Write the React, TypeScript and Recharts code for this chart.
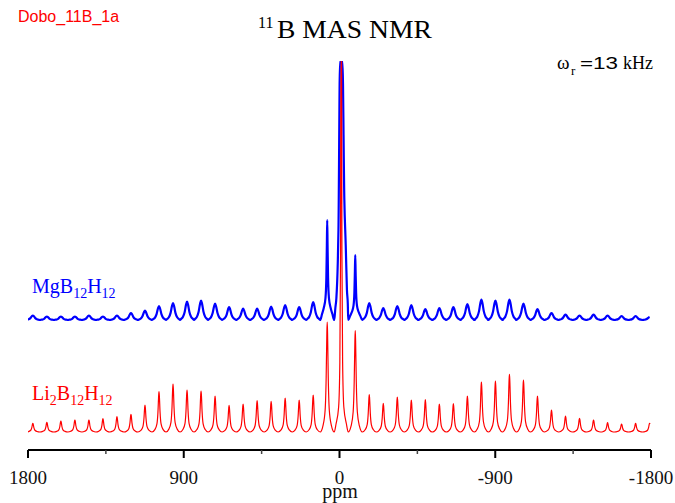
import React from "react";
import { LineChart, Line, XAxis, YAxis } from "recharts";

// sideband positions (ppm), left to right on the reversed axis; -10 ppm is the centre band
const sidebandPpm = [
  1772, 1691, 1610, 1529, 1448, 1367, 1286, 1205, 1124, 1043, 962, 881, 800, 719, 638, 557, 476, 395, 314, 233, 152, 71,
  -10,
  -91, -172, -253, -334, -415, -496, -577, -658, -739, -820, -901, -982, -1063, -1144, -1225, -1306, -1387, -1468, -1549, -1630, -1711, -1792,
];
const centerPpm = -10;

// peak heights above each trace's own baseline (a.u.)
const liHeights = [
  8.7, 9.7, 11, 12, 12, 13.3, 15.3, 17.7, 27, 40.3, 48, 42, 41, 36, 26.7, 28, 31.3, 30.7, 34, 32, 37, 110,
  371,
  101.3, 37.3, 28.7, 35, 32, 32.3, 28, 28.3, 36, 50, 51, 57.7, 52, 36, 22, 16, 13.7, 12, 9.3, 8, 8.7, 8.7,
];
const mgHeights = [
  4.5, 3.5, 3.5, 3.5, 4.5, 3.5, 4.5, 7, 9.5, 14, 17, 18.5, 19.5, 16.5, 13, 11.5, 11.5, 13.5, 15, 13, 18, 100,
  259,
  65, 17, 12, 14, 15, 11, 12, 13, 16, 20.5, 19.5, 20.5, 16.5, 11, 7, 5.5, 4.5, 5.5, 4.5, 4, 4, 3,
];
const mgSharpPpm = [71, -91];

// baselines of the stacked traces
const liOffset = 18;
const mgOffset = 130;
const yMax = 389;

// line shapes: [ppm offset from band, fraction of height]
const sharpShape: [number, number][] = [[24, 0.06], [12, 0.2], [6, 0.5], [2, 0.9], [0, 1], [-2, 0.9], [-6, 0.5], [-12, 0.2], [-24, 0.06]];
const broadShape: [number, number][] = [[34, 0.06], [24, 0.16], [14, 0.42], [6, 0.82], [0, 1], [-6, 0.82], [-14, 0.42], [-24, 0.16], [-34, 0.06]];
const mgSpikeShape: [number, number][] = [[30, 0.06], [20, 0.12], [10, 0.22], [5, 0.42], [2, 0.75], [0, 1], [-2, 0.75], [-5, 0.42], [-10, 0.22], [-20, 0.12], [-30, 0.06]];
// centre bands: [ppm offset, absolute height]
const liCenter: [number, number][] = [[30, 8], [15, 25], [8, 70], [4, 180], [2, 371], [-2, 371], [-4, 180], [-8, 70], [-15, 25], [-30, 8]];
const mgCenter: [number, number][] = [[34, 12], [28, 22], [20, 57], [16, 90], [7, 259], [-7, 259], [-18, 120], [-26, 75], [-33, 30], [-38, 16]];

const axisTicks = [1800, 1350, 900, 450, 0, -450, -900, -1350, -1800];
const majorTicks = [1800, 900, 0, -900, -1800];

type Pt = { ppm: number; v: number };

function buildTrace(heights: number[], offset: number, shape: (ppm: number) => [number, number][], center: [number, number][]) {
  const pts: Pt[] = [{ ppm: 1800, v: offset }];
  sidebandPpm.forEach((p, i) => {
    pts.push({ ppm: p + 40.5, v: offset });
    if (p === centerPpm) {
      center.forEach(([dx, h]) => pts.push({ ppm: p + dx, v: offset + h }));
    } else {
      shape(p).forEach(([dx, f]) => pts.push({ ppm: p + dx, v: offset + f * heights[i] }));
    }
  });
  return pts.filter((d) => d.ppm <= 1800 && d.ppm >= -1795).sort((a, b) => b.ppm - a.ppm);
}

const liTrace = buildTrace(liHeights, liOffset, () => sharpShape, liCenter);
const mgTrace = buildTrace(mgHeights, mgOffset, (p) => (mgSharpPpm.includes(p) ? mgSpikeShape : broadShape), mgCenter);

const serif = "'Liberation Serif', 'Times New Roman', serif";
const sans = "'Liberation Sans', Arial, sans-serif";

const renderTick = (props: any) => {
  const { x, y, payload } = props;
  const major = majorTicks.includes(payload.value);
  return (
    <g>
      <line x1={x} x2={x} y1={y} y2={y + (major ? 8 : 4)} stroke={major ? "#000" : "#444"} strokeWidth={major ? 2 : 1.5} />
      {major && (
        <text x={x} y={y + 34} textAnchor="middle" fontFamily={serif} fontSize={19} fill="#111">
          {payload.value}
        </text>
      )}
    </g>
  );
};

export default function App() {
  return (
    <div style={{ position: "absolute", left: 0, top: 0, width: 675, height: 503, background: "#fff" }}>
      <LineChart width={675} height={503} margin={{ top: 61, right: 24, bottom: 23, left: 28 }}>
        <XAxis
          type="number"
          dataKey="ppm"
          domain={[-1800, 1800]}
          reversed
          allowDataOverflow
          ticks={axisTicks}
          interval={0}
          tickSize={0}
          tickMargin={0}
          tickLine={false}
          axisLine={{ stroke: "#000", strokeWidth: 2 }}
          tick={renderTick}
          height={30}
        />
        <YAxis type="number" domain={[0, yMax]} hide allowDataOverflow />
        <Line data={mgTrace} dataKey="v" type="monotone" stroke="#0000ff" strokeWidth={2.2} dot={false} activeDot={false} isAnimationActive={false} />
        <Line data={liTrace} dataKey="v" type="monotone" stroke="#ff0000" strokeWidth={1.2} dot={false} activeDot={false} isAnimationActive={false} />
      </LineChart>
      <svg width={675} height={503} style={{ position: "absolute", left: 0, top: 0, pointerEvents: "none" }}>
        <text x={18} y={22} fontFamily={sans} fontSize={16} fill="#ff0000">Dobo_11B_1a</text>
        <text x={258} y={28} fontFamily={serif} fontSize={16} fill="#000">11</text>
        <text x={277} y={38} fontFamily={serif} fontSize={25} fill="#000" textLength={155} lengthAdjust="spacingAndGlyphs">B MAS NMR</text>
        <text x={557} y={69} fontFamily={serif} fontSize={19} fill="#000">ω</text>
        <text x={571} y={75} fontFamily={serif} fontSize={13} fill="#000">r</text>
        <text x={580} y={69} fontFamily={sans} fontSize={17} fill="#000" textLength={38} lengthAdjust="spacingAndGlyphs">=13</text>
        <text x={623} y={69} fontFamily={serif} fontSize={18} fill="#000">kHz</text>
        <text x={32} y={293} fontFamily={serif} fontSize={20} fill="#0000ff">
          MgB<tspan fontSize={14} dy={5}>12</tspan><tspan dy={-5}>H</tspan><tspan fontSize={14} dy={5}>12</tspan>
        </text>
        <text x={32} y={400} fontFamily={serif} fontSize={20} fill="#ff0000">
          Li<tspan fontSize={14} dy={5}>2</tspan><tspan dy={-5}>B</tspan><tspan fontSize={14} dy={5}>12</tspan><tspan dy={-5}>H</tspan><tspan fontSize={14} dy={5}>12</tspan>
        </text>
        <text x={340} y={498} textAnchor="middle" fontFamily={serif} fontSize={20} fill="#111">ppm</text>
      </svg>
    </div>
  );
}
